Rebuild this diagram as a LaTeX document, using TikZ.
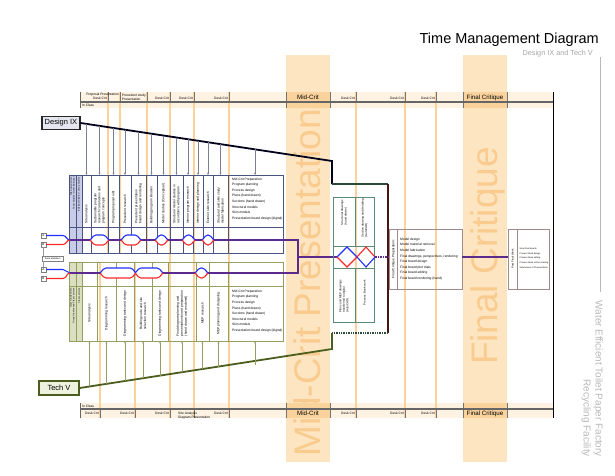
\documentclass[tikz,border=0pt]{standalone}
\usepackage{fontspec}
\setmainfont{Liberation Sans}
\usetikzlibrary{arrows.meta,positioning}

\definecolor{critband}{HTML}{FDE5C2}
\definecolor{critcell}{HTML}{FAD29C}
\definecolor{critline}{HTML}{FDD29A}
\definecolor{critword}{HTML}{F9CB8E}
\definecolor{headband}{HTML}{FEF2E2}
\definecolor{dixblue}{HTML}{4A5582}
\definecolor{dixpin}{HTML}{7A8096}
\definecolor{dixfill}{HTML}{E4E7F0}
\definecolor{dixside}{HTML}{C9CCE8}
\definecolor{tvgreen}{HTML}{4B5E1E}
\definecolor{tvline}{HTML}{93A062}
\definecolor{tvfill}{HTML}{EFF2DF}
\definecolor{tvside}{HTML}{DADFC0}
\definecolor{laneA}{HTML}{2030FF}
\definecolor{laneB}{HTML}{FF2828}
\definecolor{lanepurple}{HTML}{5B2A8C}
\definecolor{joinred}{HTML}{4A1414}
\definecolor{jointeal}{HTML}{2C4A3A}
\definecolor{midbox}{HTML}{5E8A78}
\definecolor{finbox}{HTML}{A08A8C}
\definecolor{faded}{HTML}{B8B8B8}

\tikzset{
  smalltext/.style={font=\fontsize{3.3}{3.9}\selectfont, inner sep=0pt},
  weetext/.style={font=\fontsize{2.3}{2.8}\selectfont, inner sep=0pt},
  duelabel/.style={smalltext, anchor=base east},
  critlabel/.style={font=\fontsize{6.2}{7}\selectfont, inner sep=0pt},
  bigword/.style={font=\fontsize{37}{40}\selectfont, text=critword, inner sep=0pt, rotate=90, anchor=base},
  deadline/.style={draw=critline, line width=1.6pt},
  duetick/.style={draw=black!55, line width=0.4pt},
  classbox/.style={draw=#1, line width=1.3pt, minimum height=13pt, inner sep=0pt, font=\fontsize{7.5}{9}\selectfont},
  taskup/.style={smalltext, rotate=90, anchor=west, align=left},
  taskdown/.style={smalltext, rotate=90, anchor=center, align=left},
  tasktop/.style={font=\fontsize{2.9}{3.5}\selectfont, inner sep=0pt, rotate=90, anchor=east, align=left},
  listtext/.style={font=\fontsize{3.3}{5.6}\selectfont, inner sep=0pt, align=left, anchor=north west},
  dixrule/.style={draw=dixblue, line width=0.5pt},
  tvrule/.style={draw=tvline, line width=0.5pt},
  dixarrow/.style={draw=dixpin, line width=0.3pt, -{Stealth[length=2.4pt,width=1.8pt]}},
  tvarrow/.style={draw=tvline, line width=0.3pt, -{Stealth[length=2.4pt,width=1.8pt]}},
  lanetag/.style={draw=black!50, fill=white, line width=0.3pt, minimum width=5pt, minimum height=5.5pt, inner sep=0pt, font=\fontsize{3}{3.5}\selectfont},
  teamlane/.style={draw=lanepurple, line width=1.5pt},
  alane/.style={draw=laneA, line width=1.1pt},
  blane/.style={draw=laneB, line width=1.1pt},
}

\newcommand{\lanesplit}[3]{%
  \fill[white] (#1,#3) -- (#1+3.5,#3-5) -- (#2-3.5,#3-5) -- (#2,#3) -- (#2-3.5,#3+5) -- (#1+3.5,#3+5) -- cycle;
  \draw[alane, rounded corners=1.5pt] (#1-1,#3) -- (#1+3.5,#3-5) -- (#2-3.5,#3-5) -- (#2+1,#3);
  \draw[blane, rounded corners=1.5pt] (#1-1,#3) -- (#1+3.5,#3+5) -- (#2-3.5,#3+5) -- (#2+1,#3);
}

\begin{document}
\begin{tikzpicture}[x=1pt,y=-1pt]
\useasboundingbox (0,0) rectangle (615,475);

% title
\node[font=\fontsize{14.5}{17}\selectfont, anchor=base east, inner sep=0pt] (title) at (599,43) {Time Management Diagram};
\node[font=\fontsize{7.3}{9}\selectfont, text=black!35, anchor=base east, inner sep=0pt] (subtitle) at (593,55) {Design IX and Tech V};
\draw[faded, line width=0.5pt] (600,57) -- (600,292);
\node[font=\fontsize{10}{12}\selectfont, text=faded, rotate=-90, anchor=north east, align=right, inner sep=0pt] (project) at (603,457) {Water Efficient Toilet Paper Factory\\Recycling Facility};

% critique bands
\fill[critband] (286,55) rectangle (330,462);
\fill[critband] (463,55) rectangle (507,462);
\node[bigword] (midword) at (320,283) {Mid-Crit Presentation};
\node[bigword] (finalword) at (497,256) {Final Critique};

% calendar strips
\fill[headband] (80,92) rectangle (553,108);
\fill[headband] (80,403) rectangle (553,418);
\fill[critcell] (286,92) rectangle (330,108) (463,92) rectangle (507,108)
                (286,403) rectangle (330,418) (463,403) rectangle (507,418);

\foreach \xd in {108,120,147} \draw[deadline] (\xd,92) -- (\xd,253);
\foreach \xd in {100,135} \draw[deadline] (\xd,262) -- (\xd,418);
\foreach \xd in {170,194,229,356,405,436} \draw[deadline] (\xd,92) -- (\xd,418);

\foreach \xd in {108,120,147,170,194,229,356,405,436} \draw[duetick] (\xd,92) -- (\xd,102);
\foreach \xd in {100,135,170,194,229,356,405,436} \draw[duetick] (\xd,409) -- (\xd,418);
\foreach \xd in {286,330,463,507} \draw[duetick] (\xd,92) -- (\xd,108) (\xd,403) -- (\xd,418);

\draw[line width=1.3pt, black!60] (80,102) -- (553,102);
\draw[line width=1.3pt, black!60] (80,409) -- (553,409);
\draw[line width=0.8pt] (553,92) -- (553,418);
\draw[line width=0.4pt, black!60] (80,92) -- (80,108) (80,403) -- (80,418);

\node[smalltext, anchor=base west] (inclass1) at (82,106.5) {In Class};
\node[duelabel] (tprop) at (119,95.5) {Proposal Presentation};
\node[duelabel] (tdesk1) at (107,99.5) {Desk Crit};
\node[smalltext, anchor=south east, align=left] (tprec) at (146,100.5) {Precedent study\\Presentation};
\node[duelabel] (tdesk2) at (169,99.5) {Desk Crit};
\node[duelabel] (tdesk3) at (193,99.5) {Desk Crit};
\node[duelabel] (tdesk4) at (228,99.5) {Desk Crit};
\node[duelabel] (tdesk5) at (355,99.5) {Desk Crit};
\node[duelabel] (tdesk6) at (404,99.5) {Desk Crit};
\node[duelabel] (tdesk7) at (435,99.5) {Desk Crit};
\node[critlabel] (tmid) at (308,97.5) {Mid-Crit};
\node[critlabel] (tfinal) at (485,97.5) {Final Critique};

\node[smalltext, anchor=base west] (inclass2) at (82,407) {In Class};
\node[duelabel] (bdesk1) at (99,414.5) {Desk Crit};
\node[duelabel] (bdesk2) at (134,414.5) {Desk Crit};
\node[duelabel] (bdesk3) at (169,414.5) {Desk Crit};
\node[smalltext, anchor=north west, align=left] (bsite) at (178,411.8) {Site Analysis\\Diagram Presentation};
\node[duelabel] (bdesk4) at (228,414.5) {Desk Crit};
\node[duelabel] (bdesk5) at (355,414.5) {Desk Crit};
\node[duelabel] (bdesk6) at (404,414.5) {Desk Crit};
\node[duelabel] (bdesk7) at (435,414.5) {Desk Crit};
\node[critlabel] (bmid) at (308,413.5) {Mid-Crit};
\node[critlabel] (bfinal) at (485,413.5) {Final Critique};

% class boxes and their lines
\node[classbox=black!85, fill=dixfill, minimum width=38pt] (dix) at (61,123) {Design IX};
\node[classbox=tvgreen, fill=tvfill, minimum width=40pt, minimum height=14pt] (tv) at (59,388) {Tech V};
\coordinate (dixbend) at (332,161);
\coordinate (dixdrop) at (332,184);
\coordinate (joinright) at (388,184);
\coordinate (joinlow) at (388,333);
\coordinate (tvdrop) at (332,333);
\coordinate (tvbend) at (332,349);
\draw[line width=1.8pt, black!90!blue] (dix.east) -- (dixbend) -- (dixdrop);
\draw[line width=1.6pt, jointeal] (dixdrop) -- (joinright);
\draw[line width=1.6pt, joinred] (joinright) -- (joinlow);
\draw[line width=1.4pt, jointeal, densely dotted] (joinlow) -- (tvdrop);
\draw[line width=1.8pt, tvgreen] (tvdrop) -- (tvbend) -- (tv.east);

% Design IX tasks
\fill[dixside] (69,175) rectangle (82,253);
\draw[dixrule] (69,175) rectangle (283,253);
\draw[dixrule] (69,227) -- (283,227) (76,175) -- (76,253) (82,175) -- (82,253);
\node[weetext, rotate=90, anchor=east, align=right] (dixside1) at (72.5,177) {Site Analysis Date\\Team Studies / Other Individual};
\node[weetext, rotate=90, anchor=east, align=right] (dixside2) at (79,177) {Individual Studies / Group Studies};
\foreach \xa/\xb/\job in {82/91/{Site analysis},
    91/108/{Sustainable program\\research calculations and\\program concepts},
    108/119/{Program proposal edit},
    119/131/{Precedent research},
    131/146/{Precedent presentation\\board design and rendering},
    146/157/{Building program ideation},
    157/170/{Model studies (Conceptual)},
    170/183/{Structural model studies in\\accordance with program},
    183/193/{Interior program research},
    193/203/{Interior design and planning},
    203/213/{Exterior skin research},
    213/228/{Structural and skin study\\model fabrication}}{
  \draw[dixrule] (\xb,175) -- (\xb,253);
  \pgfmathsetmacro{\xm}{(\xa+\xb)/2}
  \pgfmathsetmacro{\ys}{123+(\xm-80)*38/252}
  \node[taskup] (dtask\xb) at (\xm,224) {\job};
  \draw[dixarrow] (\xm,\ys) -- (\xm,175);
}
\node[listtext] (dixprep) at (232,177.6) {Mid-Crit Preparation:\\Program planning\\Process design\\Plans (hand drawn)\\Sections (hand drawn)\\Structural models\\Skin models\\Presentation board design (digital)};
\draw[dixarrow] (255,149.4) -- (255,175);

% Tech V tasks
\fill[tvside] (69,262) rectangle (82,341);
\draw[tvrule] (69,262) rectangle (283,341);
\draw[tvrule] (69,286) -- (283,286) (76,262) -- (76,341) (82,262) -- (82,341);
\node[weetext, rotate=90, anchor=east, align=right] (tvside1) at (72.5,288) {Class Studies Date\\Group Studies and Class Lectures};
\node[weetext, rotate=90, anchor=east, align=right] (tvside2) at (79,288) {Class Lectures};
\foreach \xa/\xb/\job in {82/97/{Site analysis},
    97/116/{Diagramming research},
    116/134/{Diagramming tasks and design},
    134/152/{Building code and site\\selection research},
    152/168/{Diagramming tasks and design},
    168/196/{Final diagram planning and\\presentation board preparation\\(hand drawn and rendered)},
    196/209/{MEP research},
    209/228/{MEP planning and designing}}{
  \draw[tvrule] (\xb,262) -- (\xb,341);
  \pgfmathsetmacro{\xm}{(\xa+\xb)/2}
  \pgfmathsetmacro{\ys}{388-(\xm-79)*39/253}
  \node[taskdown] (ttask\xb) at (\xm,313.5) {\job};
  \draw[tvarrow] (\xm,\ys) -- (\xm,341);
}
\node[listtext] (tvprep) at (232,289.6) {Mid-Crit Preparation:\\Program planning\\Process design\\Plans (hand drawn)\\Sections (hand drawn)\\Structural models\\Skin models\\Presentation board design (digital)};
\draw[tvarrow] (255,364.5) -- (255,341);

% team lanes
\node[lanetag] (tagA1) at (43.5,235.5) {A};
\node[lanetag] (tagB1) at (43.5,244.5) {B};
\node[lanetag, minimum width=21pt, font=\fontsize{2.3}{2.8}\selectfont] (team) at (52.5,258.5) {Team Members};
\node[lanetag] (tagA2) at (43.5,269.5) {A};
\node[lanetag] (tagB2) at (43.5,278.5) {B};
\draw[black!40, line width=0.3pt] (tagB1.south) -- (tagB1.south |- team.north) (tagA2.north) -- (tagA2.north |- team.south);
\draw[alane] (tagA1.east) -- (63,235.5) to[out=0,in=180] (70,240);
\draw[blane] (tagB1.east) -- (63,244.5) to[out=0,in=180] (70,240);
\draw[alane] (tagA2.east) -- (63,269.5) to[out=0,in=180] (70,273);
\draw[blane] (tagB2.east) -- (63,278.5) to[out=0,in=180] (70,273);
\draw[teamlane] (70,240) -- (298,240) -- (298,273) -- (70,273);
\draw[teamlane] (298,257) -- (337,257);
\lanesplit{91}{108}{240}
\lanesplit{122}{140}{240}
\lanesplit{156}{167}{240}
\lanesplit{183}{194}{240}
\lanesplit{203}{213}{240}
\lanesplit{101}{135}{273}
\lanesplit{136}{162}{273}
\lanesplit{196}{207}{273}

% drawings block
\draw[draw=midbox, line width=0.5pt] (333,197) rectangle (374,322);
\draw[draw=midbox, line width=0.5pt] (333,246) -- (374,246) (333,268) -- (374,268) (355,197) -- (355,246) (355,268) -- (355,322);
\node[tasktop] (strdraw) at (344,200) {Structural drawings\\(hand drawn)};
\node[tasktop] (secdraw) at (364.5,199) {Section drawing and detailing\\(AutoCAD)};
\node[tasktop] (mepdraw) at (344,280) {Plans and MEP drawings\\transferred to digital\\(AutoCAD)};
\node[tasktop] (bookwork) at (364.5,280) {Process Book work};
\draw[alane] (337,257) -- (347,247) -- (357,257);
\draw[blane] (337,257) -- (347,267) -- (357,257);
\draw[blane] (357,257) -- (366,247) -- (375,257);
\draw[alane] (357,257) -- (366,267) -- (375,257);
\draw[teamlane, densely dotted] (375,257) -- (389,257);

% final critique
\draw[draw=finbox, line width=0.5pt] (389,229) rectangle (462,289) (397.5,229) -- (397.5,289);
\node[smalltext, rotate=90] (finprephead) at (393.5,259) {Final Critique Preparation:};
\node[listtext] (finprep) at (400,237.6) {Model design\\Model material retrieval\\Model fabrication\\Final drawings, perspectives, rendering\\Final board design\\Final board plot trials\\Final board editing\\Final board rendering (hand)};
\draw[teamlane] (462,257) -- (508,257);
\draw[draw=finbox, line width=0.5pt] (508,229) rectangle (549,289) (517,229) -- (517,289);
\node[font=\fontsize{2.8}{3.3}\selectfont, inner sep=0pt, rotate=90] (posthead) at (512.5,259) {Post Final Work};
\node[listtext, font=\fontsize{2.2}{4.7}\selectfont] (postlist) at (519.5,247.7) {Scan final boards\\Process Book design\\Process Book editing\\Process Book online ordering\\Submission of Process Book};

\end{tikzpicture}
\end{document}
